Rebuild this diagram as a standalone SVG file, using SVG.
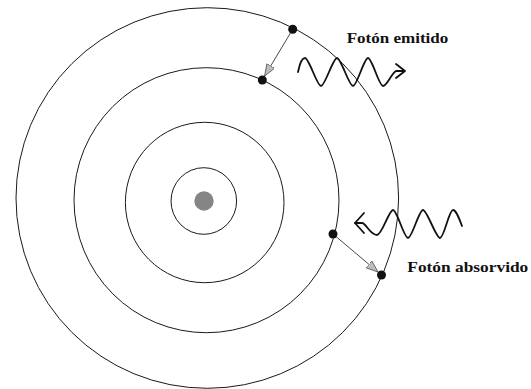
<svg xmlns="http://www.w3.org/2000/svg" width="531" height="389" viewBox="0 0 531 389">
<style>
.orbit{fill:none;stroke:#1a1a1a;stroke-width:1}
.electron{fill:#111}
.wave{fill:none;stroke:#111;stroke-width:1.8;stroke-linejoin:round;stroke-linecap:round}
.jump{stroke:#333;stroke-width:0.9;fill:none}
.label{font-family:"Liberation Serif","Times New Roman",serif;font-weight:bold;font-size:14.5px;fill:#111}
</style>
<defs>
<marker id="ah" markerUnits="userSpaceOnUse" markerWidth="14" markerHeight="10" refX="12" refY="4.5" orient="auto">
<path d="M0,0 L12,4.5 L0,9 z" fill="#bdbdbd" stroke="#555" stroke-width="0.8"/>
</marker>
</defs>
<rect width="531" height="389" fill="#fff"/>
<g id="nucleus"><circle cx="204" cy="201" r="9.7" fill="#858585"/></g>
<g id="orbit1"><ellipse class="orbit" cx="203.8" cy="201" rx="32.8" ry="33.3"/></g>
<g id="orbit2"><ellipse class="orbit" cx="204.7" cy="202.5" rx="79.3" ry="80.2"/></g>
<g id="orbit3"><ellipse class="orbit" cx="206.5" cy="200.2" rx="132.5" ry="132.5"/></g>
<g id="orbit4"><ellipse class="orbit" cx="207.3" cy="198" rx="191.3" ry="190.3"/></g>
<g id="connectors">
<line class="jump" x1="292.7" y1="29.3" x2="264.6" y2="76.1" marker-end="url(#ah)"/>
<line class="jump" x1="333" y1="234" x2="378.1" y2="272.1" marker-end="url(#ah)"/>
</g>
<g id="electron-top"><circle class="electron" cx="292.7" cy="29.3" r="4.5"/></g>
<g id="electron-mid-top"><circle class="electron" cx="262.3" cy="80" r="4.5"/></g>
<g id="electron-mid-bottom"><circle class="electron" cx="333" cy="234" r="4.5"/></g>
<g id="electron-bottom"><circle class="electron" cx="381.5" cy="275" r="4.5"/></g>
<g id="photon-emitted">
<path class="wave" d="M298,72 C300,62 302,58 305,58 C309,58 317,86 321,86 C325,86 333,58 337,58 C341,58 349,86 353,86 C357,86 364,58 368,58 C372,58 379,86 383,86 C387,86 391,74 396,71 L404,71"/>
<path class="wave" d="M396,64 L405,71 L396,78"/>
</g>
<g id="photon-absorbed">
<path class="wave" d="M462,226 C459,218 456,210 453,210 C449,210 444,238 440,238 C436,238 427,210 423,210 C419,210 412,238 408,238 C404,238 397,210 393,210 C389,210 382,235 377,235 C370,235 366,223 362,223 L355,223"/>
<path class="wave" d="M364,213 L355,223 L364,233"/>
</g>
<g id="label-emitted"><text class="label" x="346.7" y="42.7" textLength="101.6" lengthAdjust="spacingAndGlyphs">Fotón emitido</text></g>
<g id="label-absorbed"><text class="label" x="407.3" y="271.7" textLength="121" lengthAdjust="spacingAndGlyphs">Fotón absorvido</text></g>
</svg>
